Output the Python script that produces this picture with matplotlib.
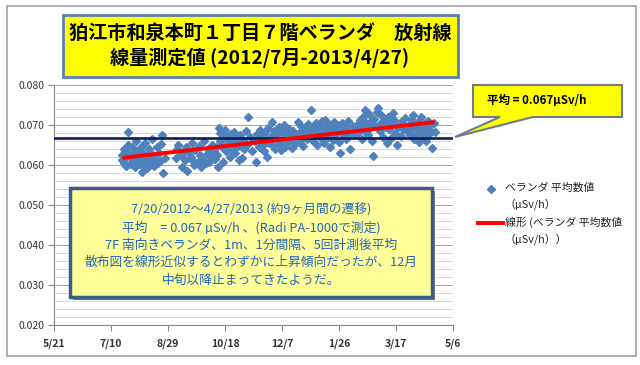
import numpy as np
import pandas as pd
import matplotlib
matplotlib.use('Agg')
import matplotlib.pyplot as plt
from matplotlib.patches import Rectangle, Polygon
from matplotlib.lines import Line2D
from matplotlib.ticker import MultipleLocator

plt.rcParams['font.family'] = ['Noto Sans CJK JP', 'DejaVu Sans']

# measurement days (offset from 2012-07-20) and averaged dose rate (uSv/h)
start = '2012-07-20'
days = [
    0, 0, 1, 1, 2, 3, 4, 5, 5, 6, 7, 8, 9, 10, 11, 12, 13, 14, 15, 16,
    17, 17, 18, 19, 20, 21, 22, 23, 24, 25, 26, 27, 28, 29, 30, 31, 32, 33, 34, 35,
    36, 37,
    47, 48, 49, 51, 52, 53, 55, 56, 57, 58, 60, 61, 62, 63, 64, 66, 67, 68, 69, 70,
    72, 73, 74, 75, 76, 78, 79, 80, 81, 82,
    83, 84, 85, 86, 86, 87, 88, 89, 90, 91, 92, 93, 94, 95, 96, 97, 98, 99, 100, 101,
    102, 103, 104, 105, 106, 107, 108, 109, 110, 112, 114, 116, 117, 118,
    119, 120, 121, 122, 123, 124, 125, 126, 127, 128, 129, 130, 131, 132, 133, 134, 135, 136, 137, 138,
    139, 140, 141, 142, 143, 144, 145, 146, 148, 149, 150, 151, 152, 154, 155, 156, 157, 158, 159, 160,
    161, 162, 163, 164, 165, 166, 167, 168, 169, 170, 171, 172, 173, 174, 175, 176, 177, 178, 179, 180,
    181, 182, 183, 184, 185, 186, 187, 188, 189, 190, 191, 192, 193, 194, 195, 196, 198, 199, 200, 202,
    203, 205,
    206, 207, 208, 209, 210, 211, 212, 213, 214, 215, 216, 217, 218, 219, 220, 221, 222, 223, 224, 225,
    226, 227, 228, 229, 230, 231, 232, 233, 234, 235, 236, 237, 238, 239, 240, 241, 242, 244, 245, 246,
    248, 250,
    251, 252, 253, 254, 255, 256, 257, 258, 259, 260, 261, 262, 263, 264, 265, 266, 267, 268, 269, 270,
    271, 272, 273, 274,
]
values = [
    0.0612, 0.0625, 0.0605, 0.0640, 0.0618, 0.0598, 0.0632, 0.0683, 0.0650, 0.0622,
    0.0603, 0.0645, 0.0610, 0.0628, 0.0595, 0.0660, 0.0615, 0.0637, 0.0602, 0.0620,
    0.0583, 0.0648, 0.0630, 0.0600, 0.0655, 0.0612, 0.0592, 0.0640, 0.0620, 0.0608,
    0.0665, 0.0625, 0.0597, 0.0615, 0.0645, 0.0605, 0.0630, 0.0610, 0.0652, 0.0675,
    0.0580, 0.0618,
    0.0617, 0.0640, 0.0650, 0.0625, 0.0595, 0.0633, 0.0612, 0.0645, 0.0585, 0.0630,
    0.0620, 0.0655, 0.0610, 0.0600, 0.0638, 0.0608, 0.0648, 0.0625, 0.0595, 0.0615,
    0.0660, 0.0605, 0.0628, 0.0640, 0.0608, 0.0622, 0.0650, 0.0635, 0.0615, 0.0645,
    0.0625, 0.0595, 0.0692, 0.0680, 0.0660, 0.0645, 0.0608, 0.0672, 0.0688, 0.0635,
    0.0652, 0.0665, 0.0620, 0.0678, 0.0640, 0.0658, 0.0683, 0.0630, 0.0668, 0.0648,
    0.0612, 0.0675, 0.0655, 0.0618, 0.0662, 0.0640, 0.0685, 0.0650, 0.0720, 0.0670,
    0.0635, 0.0660, 0.0608, 0.0678,
    0.0665, 0.0645, 0.0688, 0.0672, 0.0650, 0.0635, 0.0680, 0.0660, 0.0620, 0.0692,
    0.0655, 0.0670, 0.0708, 0.0648, 0.0685, 0.0640, 0.0675, 0.0662, 0.0695, 0.0652,
    0.0638, 0.0682, 0.0668, 0.0700, 0.0645, 0.0678, 0.0658, 0.0690, 0.0665, 0.0642,
    0.0685, 0.0672, 0.0655, 0.0708, 0.0680, 0.0660, 0.0698, 0.0648, 0.0675, 0.0688,
    0.0690, 0.0665, 0.0702, 0.0678, 0.0737, 0.0685, 0.0660, 0.0695, 0.0672, 0.0705,
    0.0650, 0.0688, 0.0698, 0.0668, 0.0710, 0.0680, 0.0655, 0.0712, 0.0692, 0.0670,
    0.0702, 0.0645, 0.0685, 0.0695, 0.0662, 0.0708, 0.0678, 0.0690, 0.0700, 0.0658,
    0.0630, 0.0688, 0.0705, 0.0672, 0.0695, 0.0665, 0.0710, 0.0682, 0.0640, 0.0698,
    0.0675, 0.0690,
    0.0700, 0.0680, 0.0712, 0.0695, 0.0665, 0.0720, 0.0688, 0.0737, 0.0705, 0.0675,
    0.0728, 0.0692, 0.0710, 0.0660, 0.0623, 0.0715, 0.0698, 0.0732, 0.0742, 0.0700,
    0.0685, 0.0725, 0.0708, 0.0670, 0.0715, 0.0695, 0.0655, 0.0720, 0.0690, 0.0705,
    0.0668, 0.0730, 0.0712, 0.0680, 0.0700, 0.0650, 0.0695, 0.0672, 0.0710, 0.0690,
    0.0718, 0.0685,
    0.0700, 0.0675, 0.0690, 0.0712, 0.0725, 0.0665, 0.0698, 0.0680, 0.0708, 0.0658,
    0.0695, 0.0720, 0.0672, 0.0688, 0.0705, 0.0660, 0.0692, 0.0710, 0.0678, 0.0700,
    0.0685, 0.0642, 0.0705, 0.0682,
]
# reported average for the whole period (uSv/h)
avg_reported = 0.0667

tick_dates = ['2012-05-21', '2012-07-10', '2012-08-29', '2012-10-18',
              '2012-12-07', '2013-01-26', '2013-03-17', '2013-05-06']
tick_labels = ['5/21', '7/10', '8/29', '10/18', '12/7', '1/26', '3/17', '5/6']
y_ticks = [0.020, 0.030, 0.040, 0.050, 0.060, 0.070, 0.080]

title1 = '狛江市和泉本町１丁目７階ベランダ　放射線'
title2 = '線量測定値 (2012/7月-2013/4/27)'
callout = '平均 = 0.067μSv/h'
notes = ['7/20/2012～4/27/2013 (約9ヶ月間の遷移)',
         '平均　= 0.067 µSv/h 、(Radi PA-1000で測定)',
         '7F 南向きベランダ、1m、1分間隔、5回計測後平均',
         '散布図を線形近似するとわずかに上昇傾向だったが、12月',
         '中旬以降止まってきたようだ。']
legend1 = ['ベランダ 平均数値', '（µSv/h）']
legend2 = ['線形 (ベランダ 平均数値', '（µSv/h））']

W, H = 640, 365


def fx(px):
    return px / W


def fy(py):
    return 1 - py / H


dates = pd.Timestamp(start) + pd.to_timedelta(days, unit='D')
days_arr = np.array(days, dtype=float)
vals = np.array(values)
slope, icpt = np.polyfit(days_arr, vals, 1)
trend_d = np.array([days_arr.min(), days_arr.max()])
trend_dates = pd.Timestamp(start) + pd.to_timedelta(trend_d, unit='D')

fig = plt.figure(figsize=(6.4, 3.65), dpi=100)
fig.patch.set_facecolor('white')
fig.add_artist(Rectangle((fx(7), fy(356)), fx(629), 350 / H, transform=fig.transFigure,
                         facecolor='none', edgecolor='#A0A0A0', lw=1.2))

ax = fig.add_axes([fx(54), fy(325), 399 / W, 240 / H])
ax.plot(dates, vals, 'D', ms=4, color='#4F81BD', mec='#4F81BD', zorder=3)
ax.axhline(avg_reported, color='#0F1E5A', lw=1.9, zorder=4)
ax.plot(trend_dates, icpt + slope * trend_d, color='#FF0000', lw=2.8,
        solid_capstyle='butt', zorder=5)

ax.set_xlim(pd.Timestamp(tick_dates[0]), pd.Timestamp(tick_dates[-1]))
ax.set_xticks(pd.to_datetime(tick_dates))
ax.set_xticklabels(tick_labels, fontsize=7.5, fontweight='bold', color='#333333')
ax.set_ylim(0.02, 0.08)
ax.set_yticks(y_ticks)
ax.set_yticklabels(['%.3f' % v for v in y_ticks], fontsize=7.5, color='#333333')
ax.yaxis.set_minor_locator(MultipleLocator(0.002))
ax.tick_params(axis='y', which='minor', length=0)
ax.tick_params(axis='both', which='major', length=4, color='#888888', pad=3)
ax.tick_params(axis='x', pad=6)
ax.grid(axis='y', which='major', color='#A6A6A6', lw=0.8)
ax.grid(axis='y', which='minor', color='#D2D2D2', lw=0.6)
ax.set_axisbelow(True)
for s in ['top', 'right']:
    ax.spines[s].set_visible(False)
for s in ['left', 'bottom']:
    ax.spines[s].set_color('#888888')

# title box
fig.add_artist(Rectangle((fx(63), fy(77)), 395 / W, 62 / H, transform=fig.transFigure,
                         facecolor='#FFFF00', edgecolor='#5B7FB5', lw=2))
fig.text(fx(260), fy(33), title1, ha='center', va='center', fontsize=13.8, fontweight='bold')
fig.text(fx(260), fy(58), title2, ha='center', va='center', fontsize=13.8, fontweight='bold')

# callout
pts = [(473, 85), (622, 85), (622, 117), (533, 117), (455, 137), (500, 117), (473, 117)]
fig.add_artist(Polygon([(fx(x), fy(y)) for x, y in pts], closed=True, transform=fig.transFigure,
                       facecolor='#FFFF00', edgecolor='#6D7B8D', lw=1.5, zorder=6))
fig.text(fx(487), fy(101), callout, ha='left', va='center', fontsize=8.3, fontweight='bold', zorder=7)

# note box with shadow
fig.add_artist(Rectangle((fx(73), fy(300)), 362 / W, 109 / H, transform=fig.transFigure,
                         facecolor='#7F7F7F', edgecolor='none', zorder=6))
fig.add_artist(Rectangle((fx(70), fy(297)), 362 / W, 109 / H, transform=fig.transFigure,
                         facecolor='#FFFF99', edgecolor='#385D8A', lw=2.5, zorder=7))
for i, line in enumerate(notes):
    fig.text(fx(251), fy(210 + 17.5 * i), line, ha='center', va='center',
             fontsize=9.2, color='#2266BB', zorder=8)

# legend
fig.add_artist(Line2D([fx(491)], [fy(189)], marker='D', ms=4, color='#4F81BD',
                      linestyle='none', transform=fig.transFigure))
fig.text(fx(505), fy(187), legend1[0], ha='left', va='center', fontsize=7.8, color='#222222')
fig.text(fx(505), fy(204), legend1[1], ha='left', va='center', fontsize=7.8, color='#222222')
fig.add_artist(Line2D([fx(478), fx(503)], [fy(223), fy(223)], color='#FF0000', lw=2.8,
                      transform=fig.transFigure))
fig.text(fx(505), fy(222), legend2[0], ha='left', va='center', fontsize=7.8, color='#222222')
fig.text(fx(505), fy(239), legend2[1], ha='left', va='center', fontsize=7.8, color='#222222')

fig.savefig('out.png', dpi=100)
